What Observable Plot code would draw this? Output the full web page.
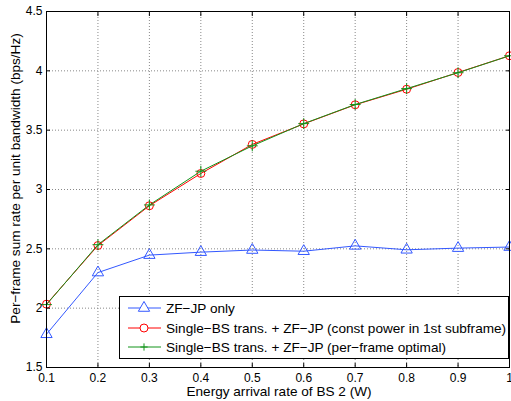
<!DOCTYPE html>
<html>
<head>
<meta charset="utf-8">
<script src="https://cdn.jsdelivr.net/npm/d3@7"></script>
<script src="https://cdn.jsdelivr.net/npm/@observablehq/plot@0.6"></script>
<style>
  html, body { margin: 0; padding: 0; background: white; }
  #wrap { position: relative; width: 511px; height: 401px; font-family: "Liberation Sans", Arial, Helvetica, sans-serif; }
  #legend { position: absolute; left: 119px; top: 296px; width: 388px; height: 61px; border: 1px solid black; background: white; font-size: 13.6px; }
  .row { position: absolute; left: 0; height: 18px; display: flex; align-items: center; }
  .row svg { display: block; }
  .row span { margin-left: 4px; white-space: nowrap; }
</style>
</head>
<body>
<div id="wrap"><div id="chart"></div><div id="legend"></div></div>
<script>
const energy = [0.1, 0.2, 0.3, 0.4, 0.5, 0.6, 0.7, 0.8, 0.9, 1.0];
const zfjpOnly   = [1.78, 2.30, 2.447, 2.472, 2.49, 2.48, 2.525, 2.492, 2.506, 2.515];
const constPower = [2.034, 2.528, 2.863, 3.135, 3.38, 3.553, 3.714, 3.845, 3.986, 4.127];
const optimal    = [2.03, 2.535, 2.87, 3.154, 3.368, 3.555, 3.716, 3.85, 3.984, 4.127];
const seriesNames = [
  "ZF\u2212JP only",
  "Single\u2212BS trans. + ZF\u2212JP (const power in 1st subframe)",
  "Single\u2212BS trans. + ZF\u2212JP (per\u2212frame optimal)"
];
const seriesColors = ["#3358ff", "#ff0000", "#12941a"];
const seriesSymbols = ["triangle", "circle", "plus"];
const xTicks = [0.1, 0.2, 0.3, 0.4, 0.5, 0.6, 0.7, 0.8, 0.9, 1];
const xTickLabels = ["0.1", "0.2", "0.3", "0.4", "0.5", "0.6", "0.7", "0.8", "0.9", "1"];
const yTicks = [1.5, 2, 2.5, 3, 3.5, 4, 4.5];
const yTickLabels = ["1.5", "2", "2.5", "3", "3.5", "4", "4.5"];
const xLabel = "Energy arrival rate of BS 2 (W)";
const yLabel = "Per\u2212frame sum rate per unit bandwidth (bps/Hz)";

const allValues = [zfjpOnly, constPower, optimal];
const data = allValues.flatMap((vals, s) => vals.map((v, i) => ({x: energy[i], y: v, s})));

const markR = {triangle: 4.2, circle: 4, plus: 3.6};
const lineMarks = [];
allValues.forEach((vals, s) => {
  const d = data.filter(p => p.s === s);
  lineMarks.push(Plot.line(d, {x: "x", y: "y", stroke: seriesColors[s], strokeWidth: 1}));
  lineMarks.push(Plot.dot(d, {x: "x", y: "y", symbol: seriesSymbols[s], stroke: seriesColors[s], fill: "none", r: markR[seriesSymbols[s]], strokeWidth: 1}));
});

const xf = d => xTickLabels[xTicks.indexOf(d)];
const yf = d => yTickLabels[yTicks.indexOf(d)];

const chart = Plot.plot({
  width: 511,
  height: 401,
  marginLeft: 46,
  marginRight: 2,
  marginTop: 11,
  marginBottom: 34,
  x: {domain: [0.1, 1]},
  y: {domain: [1.5, 4.5]},
  style: {fontFamily: "'Liberation Sans', Arial, Helvetica, sans-serif", fontSize: "12px", background: "white", color: "black"},
  marks: [
    Plot.gridX(xTicks.slice(1, -1), {stroke: "#888", strokeOpacity: 1, strokeDasharray: "1,2"}),
    Plot.gridY(yTicks.slice(1, -1), {stroke: "#888", strokeOpacity: 1, strokeDasharray: "1,2"}),
    ...lineMarks,
    Plot.frame({stroke: "black", strokeWidth: 1}),
    Plot.axisX(xTicks, {anchor: "bottom", tickSize: -4, tickFormat: () => "", label: null}),
    Plot.axisX(xTicks, {anchor: "top", tickSize: -4, tickFormat: () => "", label: null}),
    Plot.axisY(yTicks, {anchor: "left", tickSize: -4, tickFormat: () => "", label: null}),
    Plot.axisY(yTicks, {anchor: "right", tickSize: -4, tickFormat: () => "", label: null}),
    Plot.axisX(xTicks, {anchor: "bottom", tickSize: 0, tickPadding: 6, tickFormat: xf, fontSize: 12, label: null}),
    Plot.axisY(yTicks, {anchor: "left", tickSize: 0, tickPadding: 4, tickFormat: yf, fontSize: 12, label: null})
  ]
});
document.getElementById("chart").appendChild(chart);

// Axis titles
const svg0 = d3.select(chart);
svg0.append("text").attr("x", 279).attr("y", 396).attr("text-anchor", "middle")
  .attr("font-size", 13.6).attr("fill", "black").text(xLabel);
svg0.append("text").attr("transform", "translate(15,178.5) rotate(-90)").attr("text-anchor", "middle")
  .attr("dominant-baseline", "central").attr("font-size", 13.6).attr("fill", "black").text(yLabel);

// Legend
const legend = d3.select("#legend");
const rowTops = [2, 22, 41];
seriesNames.forEach((name, s) => {
  const row = legend.append("div").attr("class", "row").style("top", rowTops[s] + "px");
  const svg = row.append("svg").attr("width", 42).attr("height", 18);
  svg.append("line").attr("x1", 8).attr("x2", 41).attr("y1", 9).attr("y2", 9)
    .attr("stroke", seriesColors[s]).attr("stroke-width", 1);
  const r = markR[seriesSymbols[s]];
  if (seriesSymbols[s] === "plus") {
    svg.append("path").attr("transform", "translate(24,9)")
      .attr("d", `M${-r},0H${r}M0,${-r}V${r}`).attr("stroke", seriesColors[s]).attr("fill", "none");
  } else {
    const sym = seriesSymbols[s] === "triangle" ? d3.symbolTriangle : d3.symbolCircle;
    svg.append("path").attr("transform", "translate(24,9)")
      .attr("d", d3.symbol(sym, Math.PI * r * r)()).attr("stroke", seriesColors[s]).attr("fill", "white");
  }
  row.append("span").text(name);
});
</script>
</body>
</html>
